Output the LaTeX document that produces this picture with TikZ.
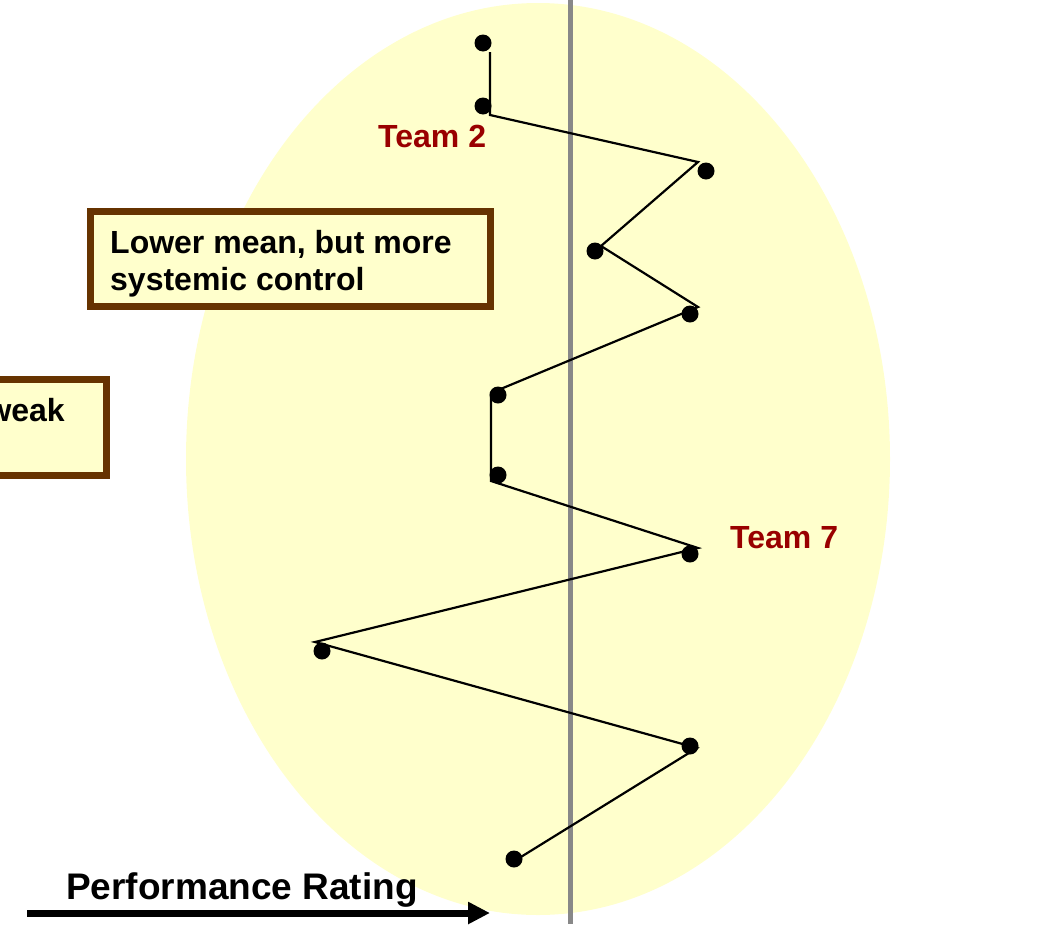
\documentclass[tikz,border=0pt]{standalone}
\usepackage{fontspec}
\setmainfont{Liberation Sans}
\usetikzlibrary{arrows.meta}
\definecolor{paleyellow}{HTML}{FFFFCC}
\definecolor{boxbrown}{HTML}{663300}
\definecolor{teamred}{HTML}{990000}
\definecolor{meangray}{HTML}{888888}
\tikzset{
  bigtext/.style={font=\fontsize{32pt}{37pt}\selectfont\bfseries, inner sep=0pt},
  axistext/.style={font=\fontsize{37pt}{42pt}\selectfont\bfseries, inner sep=0pt},
  teamlabel/.style={bigtext, text=teamred},
  notebox/.style={draw=boxbrown, line width=7pt, fill=paleyellow, rectangle},
  dot/.style={circle, fill=black, inner sep=0pt, minimum size=17pt},
  trace/.style={black, line width=2.2pt, line join=miter},
}
\begin{document}
\begin{tikzpicture}[x=1pt, y=-1pt]
\useasboundingbox (0,0) rectangle (1041,924);
\clip (0,0) rectangle (1041,924);

% control region
\fill[paleyellow] (538,459) ellipse [x radius=352, y radius=456];

% mean line
\coordinate (meantop) at (570,0);
\coordinate (meanbot) at (570,924);
\draw[meangray, line width=5pt] (meantop) -- (meanbot);

% run chart trace
\coordinate (v1) at (490,52);
\coordinate (v2) at (490,115);
\coordinate (v3) at (698,162);
\coordinate (v4) at (601,246);
\coordinate (v5) at (698,307);
\coordinate (v6) at (491,393);
\coordinate (v7) at (491,481);
\coordinate (v8) at (698,548);
\coordinate (v9) at (315,642);
\coordinate (v10) at (697,748);
\coordinate (v11) at (516,860);
\draw[trace] (v1) -- (v2) -- (v3) -- (v4) -- (v5) -- (v6) -- (v7) -- (v8) -- (v9) -- (v10) -- (v11);

% data points
\node[dot] (d1) at (483,43) {};
\node[dot] (d2) at (483,106) {};
\node[dot] (d3) at (706,171) {};
\node[dot] (d4) at (595,251) {};
\node[dot] (d5) at (690,314) {};
\node[dot] (d6) at (498,395) {};
\node[dot] (d7) at (498,475) {};
\node[dot] (d8) at (690,554) {};
\node[dot] (d9) at (322,651) {};
\node[dot] (d10) at (690,746) {};
\node[dot] (d11) at (514,859) {};

% team labels
\node[teamlabel, anchor=base west] (team2) at (378,147) {Team 2};
\node[teamlabel, anchor=base west] (team7) at (730,548) {Team 7};

% note boxes
\node[notebox, minimum width=400pt, minimum height=95pt] (lowbox) at (290.5,259) {};
\node[bigtext, anchor=base west, align=left] (lowtxt) at (110,290) {Lower mean, but more\\systemic control};
\node[notebox, minimum width=140pt, minimum height=96pt] (weakbox) at (36.5,427.5) {};
\node[bigtext, anchor=base east] (weaktxt) at (65,421) {weak};

% axis
\node[axistext, anchor=base west] (axislabel) at (66,899) {Performance Rating};
\coordinate (axistail) at (27,913);
\coordinate (axishead) at (490,913);
\draw[line width=7pt, -{Triangle[length=22pt,width=21pt]}] (axistail) -- (axishead);
\end{tikzpicture}
\end{document}
